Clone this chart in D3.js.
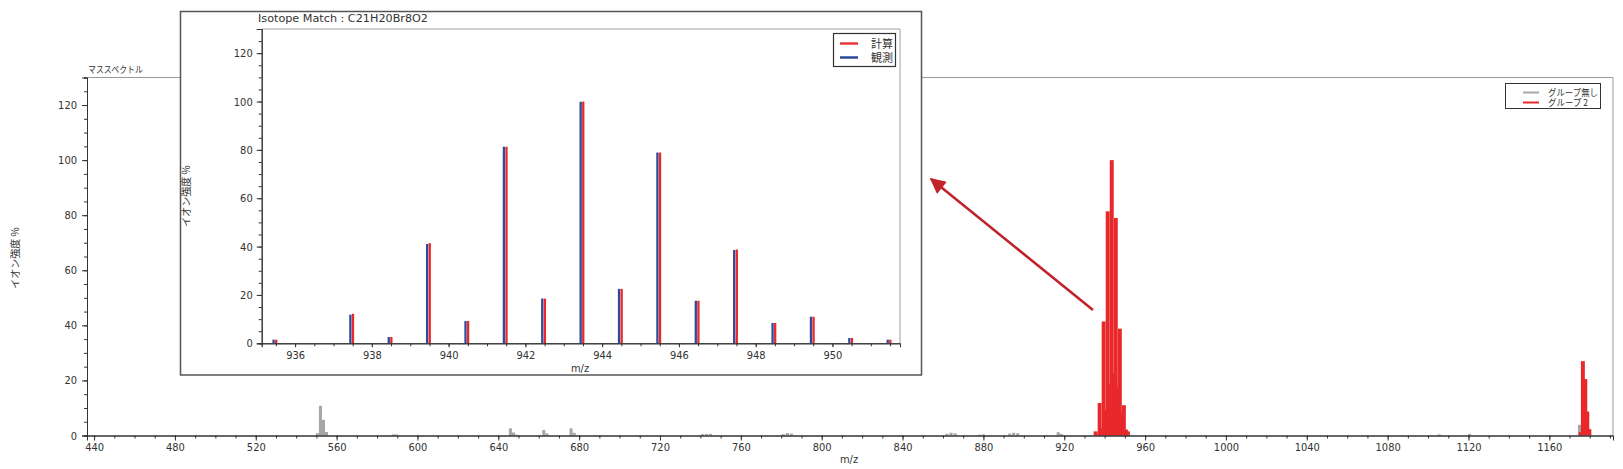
<!DOCTYPE html>
<html><head><meta charset="utf-8">
<script src="https://cdn.jsdelivr.net/npm/d3@7/dist/d3.min.js"></script>
<style>
body{margin:0;background:#fff;}
svg{display:block;}
.num{font-family:"Liberation Sans Narrow","DejaVu Sans Condensed","Liberation Sans",sans-serif;font-size:11px;fill:#333;}
.jp{font-family:"Noto Sans CJK JP","Noto Sans CJK SC",sans-serif;fill:#333;}
</style>
</head><body>
<svg id="c" width="1623" height="469"></svg>
<script>
// ---------- data ----------
const mainXTicks = [440,480,520,560,600,640,680,720,760,800,840,880,920,960,1000,1040,1080,1120,1160];
const mainYTicks = [0,20,40,60,80,100,120];
const seriesNames = ["グループ無し","グループ 2"];

// group "none" (gray) peaks
const grayMz  = [550.5,552,553.5,555,588,589.5,646,647.5,649,662.5,664,676,677.5,741,743,745,781,783,785,862,864,866,878,880,893,895,897,917,918.5,1105.5,1120.5,1174.9];
const grayVal = [0.8,10.8,5.7,1.3,0.4,0.4,2.6,1.1,0.3,2.0,0.8,2.6,1.0,0.5,0.6,0.6,0.5,0.9,0.7,0.6,1.0,0.8,0.3,0.4,0.7,1.0,0.8,1.2,0.6,0.4,0.6,3.9];

// group 2 (red) peaks
const redMz  = [935.5,936.5,937.5,938.5,939.5,940.5,941.5,942.5,943.5,944.5,945.5,946.5,947.5,948.5,949.5,950.5,951.5,1175.5,1176.6,1177.8,1178.8,1179.8];
const redVal = [1.5,0.5,11.8,2.6,41.4,9.2,81.4,18.5,100,22.5,79,17.6,38.8,8.4,11.0,2.2,1.5,1.2,27,20.5,8.7,2.3];

// inset: isotope match
const insetTitle = "Isotope Match : C21H20Br8O2";
const insetNames = ["計算","観測"];
const insetCalcMz  = [935.5,937.5,938.5,939.5,940.5,941.5,942.5,943.5,944.5,945.5,946.5,947.5,948.5,949.5,950.5,951.5];
const insetCalcVal = [1.5,12.2,2.6,41.4,9.2,81.3,18.5,100,22.5,78.9,17.6,38.8,8.4,11.0,2.2,1.5];
const insetObsMz   = [935.44,937.44,938.44,939.44,940.44,941.44,942.44,943.44,944.44,945.44,946.44,947.44,948.44,949.44,950.44,951.44];
const insetObsVal  = [1.5,11.8,2.6,41.1,9.2,81.3,18.5,99.9,22.5,78.9,17.6,38.6,8.4,11.0,2.2,1.5];
const insetXTicks = [936,938,940,942,944,946,948,950];
const insetYTicks = [0,20,40,60,80,100,120];

// ---------- drawing ----------
const svg = d3.select("#c");
const RED = "#e8282b", GRAY = "#a6a6a6", BLUE = "#2d4a9c";

// main scales
const x = d3.scaleLinear().domain([436.5,1191.5]).range([87,1613]);
const y = d3.scaleLinear().domain([0,130]).range([435.5,77.5]);

const main = svg.append("g");
main.append("path").attr("d",`M${x.range()[0]},${y(130)}H${x.range()[1]}V${y(0)}`)
  .attr("fill","none").attr("stroke","#9a9a9a").attr("stroke-width",1);
main.append("text").attr("class","jp").attr("x",88).attr("y",73).attr("font-size",9)
  .attr("textLength",55).attr("lengthAdjust","spacingAndGlyphs").text("マススペクトル");

const gw = 1.5;
main.append("g").selectAll("rect").data(d3.range(grayMz.length)).join("rect")
  .attr("x",i=>x(grayMz[i]-gw/2)).attr("width",i=>x(grayMz[i]+gw/2)-x(grayMz[i]-gw/2))
  .attr("y",i=>y(grayVal[i])).attr("height",i=>y(0)-y(grayVal[i])).attr("fill",GRAY);
const rw = 1.95;
const redOrder = d3.range(redMz.length).sort((a,b)=>redVal[a]-redVal[b]);
main.append("g").selectAll("rect").data(redOrder).join("rect")
  .attr("x",i=>x(redMz[i]-rw/2)).attr("width",i=>x(redMz[i]+rw/2)-x(redMz[i]-rw/2))
  .attr("y",i=>y(redVal[i])).attr("height",i=>y(0)-y(redVal[i])).attr("fill",RED);

function styleAxis(g){ g.selectAll("path.domain").attr("stroke","#333"); g.selectAll(".tick line").attr("stroke","#333"); g.selectAll("text").attr("class","num").attr("fill","#333").attr("font-size",null).attr("font-family",null); }
const gx = main.append("g").attr("transform",`translate(0,${y(0)})`);
gx.append("g").call(d3.axisBottom(x).tickValues(d3.range(440,1191,10)).tickSize(3).tickFormat("")).call(styleAxis);
gx.append("g").call(d3.axisBottom(x).tickValues(mainXTicks).tickSize(5).tickPadding(3).tickFormat(d=>String(d))).call(styleAxis);
const gy = main.append("g").attr("transform",`translate(${x.range()[0]},0)`);
gy.append("g").call(d3.axisLeft(y).tickValues(d3.range(0,131,5)).tickSize(3).tickFormat("")).call(styleAxis);
gy.append("g").call(d3.axisLeft(y).tickValues(mainYTicks).tickSize(5).tickPadding(5).tickFormat(d=>String(d))).call(styleAxis);
main.selectAll(".tick text").attr("class","num");

main.append("text").attr("class","jp").attr("font-size",10)
  .attr("transform","translate(19,258) rotate(-90)").attr("text-anchor","middle").text("イオン強度 %");
main.append("text").attr("class","num").attr("x",849).attr("y",463).attr("text-anchor","middle").text("m/z");

const lg = main.append("g");
lg.append("rect").attr("x",1505.5).attr("y",83.5).attr("width",95).attr("height",25).attr("fill","#fff").attr("stroke","#333").attr("stroke-width",1);
[GRAY,RED].forEach((c,i)=>{
  lg.append("line").attr("x1",1523).attr("x2",1539).attr("y1",92.5+i*10).attr("y2",92.5+i*10).attr("stroke",c).attr("stroke-width",2);
  lg.append("text").attr("class","jp").attr("x",1548).attr("y",96+i*10).attr("font-size",9)
    .attr("textLength",i===0?50:40).attr("lengthAdjust","spacingAndGlyphs").text(seriesNames[i]);
});

// ---------- inset ----------
const ins = svg.append("g");
ins.append("rect").attr("x",180.5).attr("y",11.5).attr("width",741).attr("height",363.5)
  .attr("fill","#fff").attr("stroke","#555").attr("stroke-width",1.5);
const ix = d3.scaleLinear().domain([935.13,951.76]).range([261.7,900]);
const iy = d3.scaleLinear().domain([0,130]).range([343.3,29]);
ins.append("path").attr("d",`M${ix.range()[0]},${iy(130)}H${ix.range()[1]}V${iy(0)}`)
  .attr("fill","none").attr("stroke","#a0a0a0").attr("stroke-width",1);
ins.append("text").attr("class","num").attr("x",258).attr("y",22).attr("font-size",10.5)
  .attr("textLength",170).attr("lengthAdjust","spacingAndGlyphs").text(insetTitle);

const bw = 2.3;
ins.append("g").selectAll("rect").data(d3.range(insetObsMz.length)).join("rect")
  .attr("x",i=>ix(insetObsMz[i])-bw/2).attr("width",bw)
  .attr("y",i=>iy(insetObsVal[i])).attr("height",i=>iy(0)-iy(insetObsVal[i])).attr("fill",BLUE);
ins.append("g").selectAll("rect").data(d3.range(insetCalcMz.length)).join("rect")
  .attr("x",i=>ix(insetCalcMz[i])-bw/2+0.3).attr("width",bw)
  .attr("y",i=>iy(insetCalcVal[i])).attr("height",i=>iy(0)-iy(insetCalcVal[i])).attr("fill",RED);

const igx = ins.append("g").attr("transform",`translate(0,${iy(0)})`);
igx.append("g").call(d3.axisBottom(ix).tickValues(d3.range(935.5,951.8,0.5)).tickSize(3).tickFormat("")).call(styleAxis);
igx.append("g").call(d3.axisBottom(ix).tickValues(insetXTicks).tickSize(4).tickPadding(4).tickFormat(d=>String(d))).call(styleAxis);
const igy = ins.append("g").attr("transform",`translate(${ix.range()[0]},0)`);
igy.append("g").call(d3.axisLeft(iy).tickValues(d3.range(0,131,5)).tickSize(3).tickFormat("")).call(styleAxis);
igy.append("g").call(d3.axisLeft(iy).tickValues(insetYTicks).tickSize(5).tickPadding(4).tickFormat(d=>String(d))).call(styleAxis);
ins.selectAll(".tick text").attr("class","num");

ins.append("text").attr("class","jp").attr("font-size",10)
  .attr("transform","translate(190,196) rotate(-90)").attr("text-anchor","middle").text("イオン強度 %");
ins.append("text").attr("class","num").attr("x",580).attr("y",372).attr("text-anchor","middle").text("m/z");

const ilg = ins.append("g");
ilg.append("rect").attr("x",833.5).attr("y",33.5).attr("width",62).attr("height",33).attr("fill","#fff").attr("stroke","#333").attr("stroke-width",1.2);
["#e8383c",BLUE].forEach((c,i)=>{
  ilg.append("line").attr("x1",840).attr("x2",858).attr("y1",43.5+i*14).attr("y2",43.5+i*14).attr("stroke",c).attr("stroke-width",2.5);
  ilg.append("text").attr("class","jp").attr("x",871).attr("y",47.5+i*14).attr("font-size",11).text(insetNames[i]);
});

// ---------- arrow ----------
const defs = svg.append("defs");
defs.append("marker").attr("id","ah").attr("viewBox","0 0 10 10").attr("refX",9).attr("refY",5)
  .attr("markerWidth",7).attr("markerHeight",6).attr("markerUnits","strokeWidth").attr("orient","auto")
  .append("path").attr("d","M0,0L10,5L0,10Z").attr("fill","#c1232b");
svg.append("line").attr("x1",1093).attr("y1",310).attr("x2",931).attr("y2",179)
  .attr("stroke","#c1232b").attr("stroke-width",2.6).attr("marker-end","url(#ah)");
</script>
</body></html>
